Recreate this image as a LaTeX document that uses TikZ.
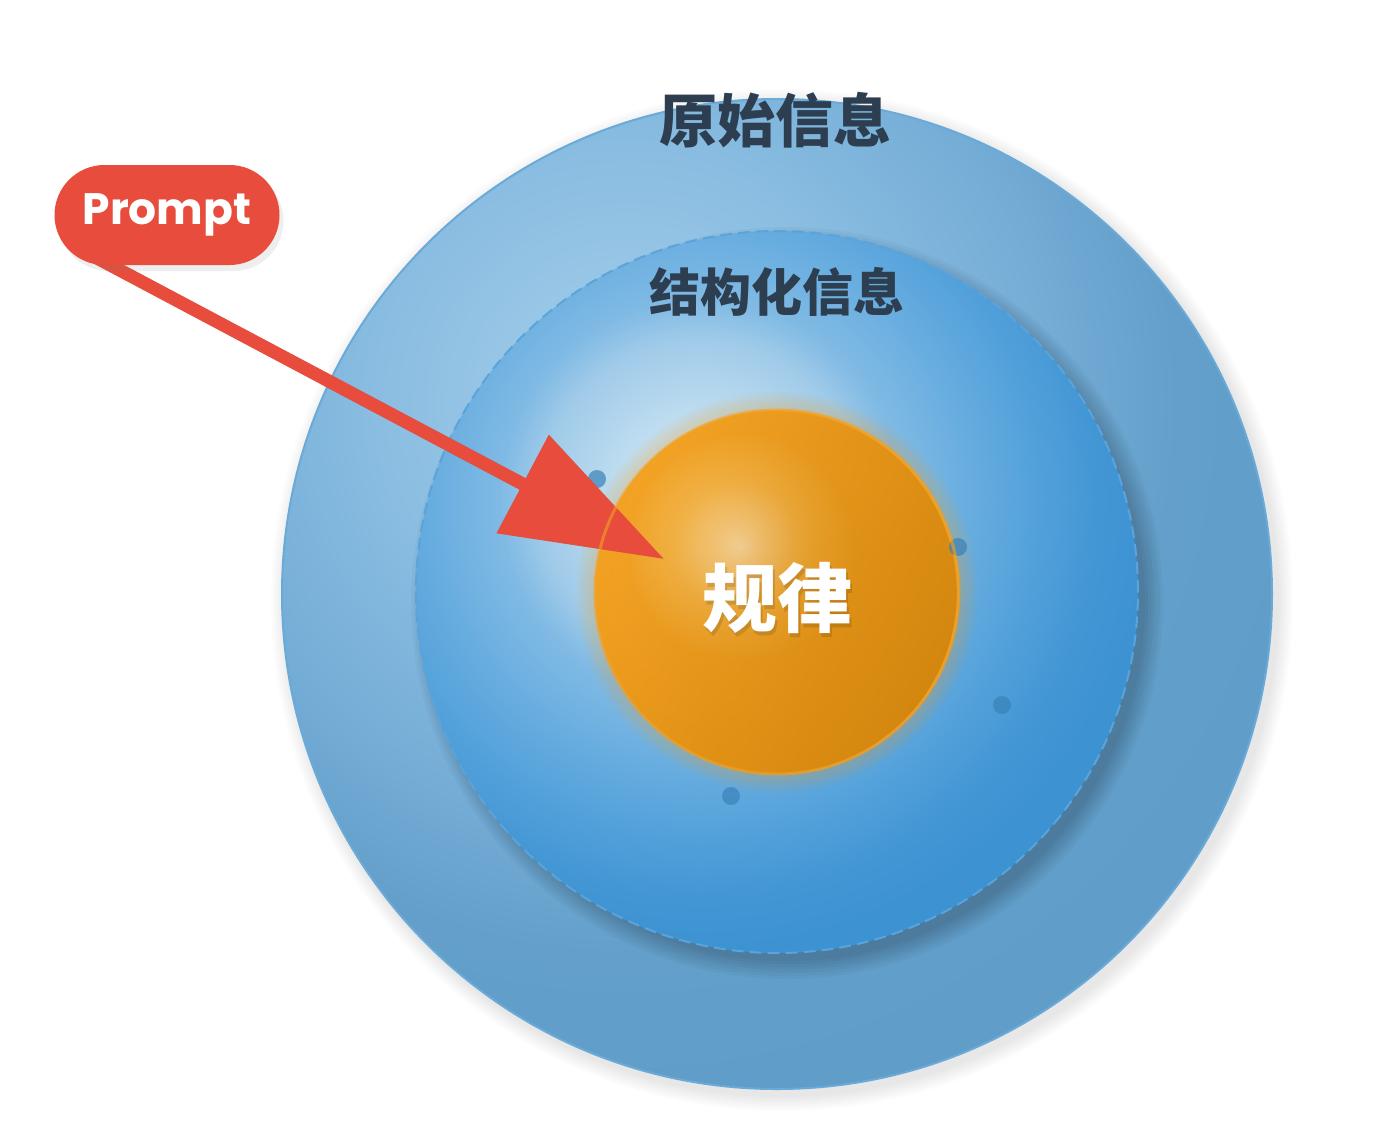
\documentclass[tikz,border=0pt]{standalone}
\usepackage{fontspec}
\newfontfamily\cjk{Noto Sans CJK SC}
\newfontfamily\popfont{Poppins}
\usetikzlibrary{arrows.meta,shadows,calc,fadings}

\definecolor{ob0}{HTML}{A6CFEB}
\definecolor{ob1}{HTML}{8ABDE1}
\definecolor{ob2}{HTML}{77AFD8}
\definecolor{ob3}{HTML}{639FCA}
\definecolor{ob4}{HTML}{609DC9}
\definecolor{mb0}{HTML}{D4E8F5}
\definecolor{mb1}{HTML}{C4E0F1}
\definecolor{mb2}{HTML}{A0CBE9}
\definecolor{mb3}{HTML}{80BAE4}
\definecolor{mb4}{HTML}{64ABDF}
\definecolor{mb5}{HTML}{52A0DA}
\definecolor{mb6}{HTML}{4296D4}
\definecolor{mb7}{HTML}{3D92D2}
\definecolor{oc0}{HTML}{FFF0D6}
\definecolor{oc1}{HTML}{FCD99C}
\definecolor{oc2}{HTML}{F7BA50}
\definecolor{oc3}{HTML}{F3A325}
\definecolor{oc4}{HTML}{F29E1C}
\definecolor{ocdark}{HTML}{D4870F}
\definecolor{navy}{HTML}{2C3E50}
\definecolor{promptred}{HTML}{E74C3C}
\definecolor{outeredge}{HTML}{6AAAD8}
\definecolor{midedge}{HTML}{5AA3DB}
\definecolor{ringc}{HTML}{F5A020}
\definecolor{dotc}{HTML}{3A82B8}

% concentric shadings; 25bp = radius of the shaded circle (TikZ convention)
\pgfdeclareradialshading{outerB}{\pgfpoint{0bp}{0bp}}{color(0bp)=(ob0); color(8.2bp)=(ob1); color(13.15bp)=(ob2); color(18.1bp)=(ob3); color(23.05bp)=(ob4); color(50bp)=(ob4)}
\pgfdeclareradialshading{midB}{\pgfpoint{0bp}{0bp}}{color(0bp)=(mb0); color(3.5bp)=(mb1); color(8bp)=(mb2); color(10bp)=(mb3); color(14bp)=(mb4); color(17bp)=(mb5); color(20bp)=(mb6); color(22.5bp)=(mb7); color(50bp)=(mb7)}
\pgfdeclareradialshading{coreO}{\pgfpoint{0bp}{0bp}}{color(0bp)=(oc0); color(2.5bp)=(oc1); color(6.5bp)=(oc2); color(11.5bp)=(oc3); color(25bp)=(oc4); color(50bp)=(oc4)}
\tikzfading[name=rightdark, left color=transparent!100, middle color=transparent!92, right color=transparent!0]

\pgfdeclarelayer{discs}
\pgfdeclarelayer{arrowlayer}
\pgfsetlayers{discs,arrowlayer,main}

\begin{document}
\begin{tikzpicture}[x=1pt,y=-1pt,
  ring/.style={circle, inner sep=0pt, outer sep=0pt},
  headline/.style={font=\cjk\bfseries\fontsize{58}{62}\selectfont, text=navy, inner sep=0pt},
  subline/.style={font=\cjk\bfseries\fontsize{51}{55}\selectfont, text=navy, inner sep=0pt},
  corelabel/.style={font=\cjk\bfseries\fontsize{75}{80}\selectfont, text=white, inner sep=0pt},
  pill/.style={fill=promptred, rounded corners=50pt, minimum width=225pt, minimum height=100pt, inner sep=0pt,
    text=white, font=\popfont\bfseries\fontsize{44}{48}\selectfont,
    drop shadow={opacity=0.13, shadow xshift=4pt, shadow yshift=-6pt}},
  dotmark/.style={circle, fill=dotc, fill opacity=0.7, minimum size=18pt, inner sep=0pt},
  pointer/.style={draw=promptred, line width=13pt, -{Triangle[length=160pt,width=108pt]}}
]
\useasboundingbox (0,0) rectangle (1398,1122);

\begin{pgfonlayer}{discs}
\fill[white] (0,0) rectangle (1398,1122);
% soft shadow of the outer circle
\foreach \i in {1,...,8}
  \fill[black, opacity=0.012] (782,600) circle[radius=495pt+\i*2pt];

\node[ring, minimum size=990pt, draw=outeredge, line width=2pt,
  path picture={\shade[shading=outerB] ($(path picture bounding box.center)+(-150,-190)$) circle[radius=760pt];}] (outer) at (777,594) {};

% shadow of the middle circle
\foreach \i in {0,...,6}
  \fill[black, opacity=0.03] (787,603) circle[radius=358pt+\i*3pt];

\node[ring, minimum size=722pt, draw=midedge, line width=2pt, dash pattern=on 12pt off 6pt,
  path picture={\shade[shading=midB] ($(path picture bounding box.center)+(-77,-92)$) circle[radius=500pt];}] (mid) at (777,592) {};

% orange glow
\foreach \i in {1,...,6}
  \fill[ringc, opacity=0.05] (777,592) circle[radius=182pt+\i*3pt];

\node[ring, minimum size=364pt,
  path picture={\shade[shading=coreO] ($(path picture bounding box.center)+(-37,-45)$) circle[radius=250pt];
    \fill[ocdark, path fading=rightdark, fading transform={rotate=-30}] (path picture bounding box.center) circle[radius=182pt];}] (core) at (777,592) {};

% dots
\node[dotmark] (d1) at (597,479) {};
\node[dotmark] (d2) at (958,547) {};
\node[dotmark] (d3) at (1002,705) {};
\node[dotmark] (d4) at (731,796) {};
\end{pgfonlayer}

% prompt pill
\node[pill] (prompt) at (167,215) {\raisebox{-3pt}{Prompt}};

% arrow from the pill into the core
\begin{pgfonlayer}{arrowlayer}
\coordinate (astart) at ($(prompt.center)+(-87,34)$);
\coordinate (tip) at ($(core.center)+(-113,-33)$);
\draw[pointer, draw=black, opacity=0.10, shift={(4pt,-5pt)}] (astart) -- (tip);
\draw[pointer] (astart) -- (tip);
\end{pgfonlayer}

% translucent orange rim over the arrow
\node[ring, minimum size=364pt, draw=ringc, line width=3pt, draw opacity=0.6] (coreRing) at (core.center) {};

% texts
\node[headline] (raw) at (775,120) {原始信息};
\node[subline] (struct) at (777,292) {结构化信息};
\node[corelabel, text=black, text opacity=0.12] (lawShadow) at (779,602) {规律};
\node[corelabel] (law) at (777,598) {规律};
\end{tikzpicture}
\end{document}
